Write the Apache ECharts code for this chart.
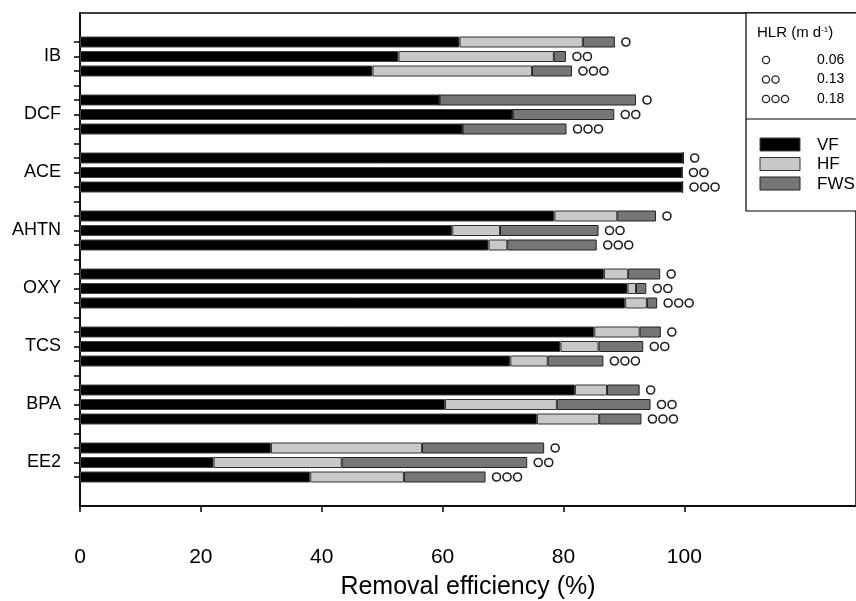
<!DOCTYPE html>
<html>
<head>
<meta charset="utf-8">
<script src="https://cdn.jsdelivr.net/npm/echarts@6/dist/echarts.min.js"></script>
<style>
html,body{margin:0;padding:0;background:#fff;}
#chart{width:856px;height:601px;}
</style>
</head>
<body>
<div id="chart"></div>
<script>
// ---- data ----
const compounds = ['IB', 'DCF', 'ACE', 'AHTN', 'OXY', 'TCS', 'BPA', 'EE2'];
const hlrLabels = ['0.06', '0.13', '0.18'];      // HLR (m d-1), one bar each per compound
// removal by stage (%), per compound: [HLR 0.06, 0.13, 0.18]
const vf  = [[62.8, 52.7, 48.4], [59.5, 71.6, 63.3], [99.8, 99.6, 99.7], [78.5, 61.6, 67.6],
             [86.7, 90.6, 90.2], [85.1, 79.5, 71.2], [81.9, 60.4, 75.6], [31.6, 22.1, 38.1]];
const hf  = [[20.4, 25.7, 26.4], [0, 0, 0], [0, 0, 0], [10.4, 7.9, 3.1],
             [4.0, 1.4, 3.6], [7.5, 6.3, 6.2], [5.3, 18.5, 10.3], [25.0, 21.2, 15.5]];
const fws = [[5.3, 2.0, 6.6], [32.5, 16.8, 17.2], [0, 0, 0], [6.4, 16.3, 14.8],
             [5.3, 1.7, 1.7], [3.5, 7.4, 9.2], [5.4, 15.5, 7.0], [20.2, 30.7, 13.5]];
const xTicks = [0, 20, 40, 60, 80, 100];
const seriesNames = ['VF', 'HF', 'FWS'];

// ---- build category slots (2 pad, groups of 3 separated by a blank, 2 pad) ----
const cats = [], labels = [], level = [], vfD = [], hfD = [], fwsD = [], tickOn = [];
function pad(k) { cats.push('pad' + cats.length); labels.push(''); level.push(-1); vfD.push('-'); hfD.push('-'); fwsD.push('-'); tickOn.push(k); }
pad(false); pad(false);
compounds.forEach((c, ci) => {
  for (let j = 0; j < 3; j++) {
    cats.push(c + '-' + j);
    labels.push(j === 1 ? c : '');
    level.push(j);
    vfD.push(vf[ci][j]); hfD.push(hf[ci][j]); fwsD.push(fws[ci][j]);
    tickOn.push(true);
  }
  if (ci < compounds.length - 1) pad(true);
});
pad(false); pad(false);

const circ = {width: 8, height: 8, borderColor: '#222', borderWidth: 1.6, borderRadius: 5};
const gap = {width: 2.5, height: 8};
function circles(n) {
  let s = '';
  for (let i = 0; i < n; i++) s += (i ? '{g|}' : '') + '{c|}';
  return s;
}

const FONT = 'Liberation Sans';
const chart = echarts.init(document.getElementById('chart'));
const barCommon = {
  type: 'bar', stack: 'total', barWidth: 11, animation: false
};
const LX = 746;
chart.setOption({
  backgroundColor: '#fff',
  animation: false,
  grid: {left: 80, top: 13, right: 0, height: 493, show: true, borderColor: '#000', borderWidth: 1.5,
         containLabel: false, outerBoundsMode: 'none'},
  xAxis: {
    type: 'value', min: 0, max: 128.4,
    axisLine: {show: true, lineStyle: {color: '#000', width: 1.5}},
    axisTick: {show: true, length: 6, lineStyle: {color: '#000', width: 1.5}, customValues: xTicks},
    axisLabel: {color: '#000', fontFamily: 'Liberation Sans Narrow, ' + FONT, fontSize: 21, margin: 41, customValues: xTicks},
    splitLine: {show: false},
    name: 'Removal efficiency (%)', nameLocation: 'middle', nameGap: 69,
    nameTextStyle: {color: '#000', fontFamily: FONT, fontSize: 25}
  },
  yAxis: {
    type: 'category', inverse: true, boundaryGap: false, data: cats,
    axisLine: {show: true, lineStyle: {color: '#000', width: 1.5}},
    axisTick: {show: true, length: 6, lineStyle: {color: '#000', width: 1.5}, interval: (i) => tickOn[i]},
    axisLabel: {interval: 0, color: '#000', fontFamily: FONT, fontSize: 18, margin: 19, formatter: (v, i) => labels[i]},
    splitLine: {show: false}
  },
  series: [
    Object.assign({}, barCommon, {name: seriesNames[0], data: vfD, itemStyle: {color: '#000', borderColor: '#444', borderWidth: 1}}),
    Object.assign({}, barCommon, {name: seriesNames[1], data: hfD, itemStyle: {color: '#c8c8c8', borderColor: '#333', borderWidth: 1}}),
    Object.assign({}, barCommon, {name: seriesNames[2], data: fwsD, itemStyle: {color: '#767676', borderColor: '#222', borderWidth: 1},
      label: {show: true, position: 'right', distance: 7,
        formatter: (p) => circles(level[p.dataIndex] + 1),
        rich: {c: circ, g: gap}}})
  ],
  graphic: [
    {type: 'rect', shape: {x: LX, y: 13, width: 130, height: 198}, style: {fill: '#fff', stroke: '#000', lineWidth: 1.2}, z: 10},
    {type: 'line', shape: {x1: LX, y1: 119, x2: 856, y2: 119}, style: {stroke: '#000', lineWidth: 1.2}, z: 11},
    {type: 'text', x: 757, y: 33, z: 11, style: {text: '{n|HLR (m d}{s|-1}{n|)}', verticalAlign: 'middle', fill: '#000',
      rich: {n: {fontFamily: FONT, fontSize: 15, fill: '#000', verticalAlign: 'bottom'}, s: {fontFamily: FONT, fontSize: 8, fill: '#000', verticalAlign: 'top'}}}},
    ...[0, 1, 2].flatMap(r => {
      const items = [];
      for (let k = 0; k <= r; k++) items.push({type: 'circle', z: 11, shape: {cx: 766 + k * 9.5, cy: 60 + r * 19.5, r: 3.6}, style: {fill: 'none', stroke: '#222', lineWidth: 1.3}});
      items.push({type: 'text', z: 11, x: 817, y: 60 + r * 19.5, style: {text: hlrLabels[r], fontFamily: FONT, fontSize: 14, fill: '#000', verticalAlign: 'middle'}});
      return items;
    }),
    ...[['#000', '#444'], ['#c8c8c8', '#333'], ['#767676', '#222']].flatMap((c, r) => [
      {type: 'rect', z: 11, shape: {x: 760, y: 138 + r * 19.5, width: 40, height: 13}, style: {fill: c[0], stroke: c[1], lineWidth: 1}},
      {type: 'text', z: 11, x: 817, y: 145 + r * 19.5, style: {text: seriesNames[r], fontFamily: FONT, fontSize: 17, fill: '#000', verticalAlign: 'middle'}}
    ])
  ]
});
</script>
</body>
</html>
